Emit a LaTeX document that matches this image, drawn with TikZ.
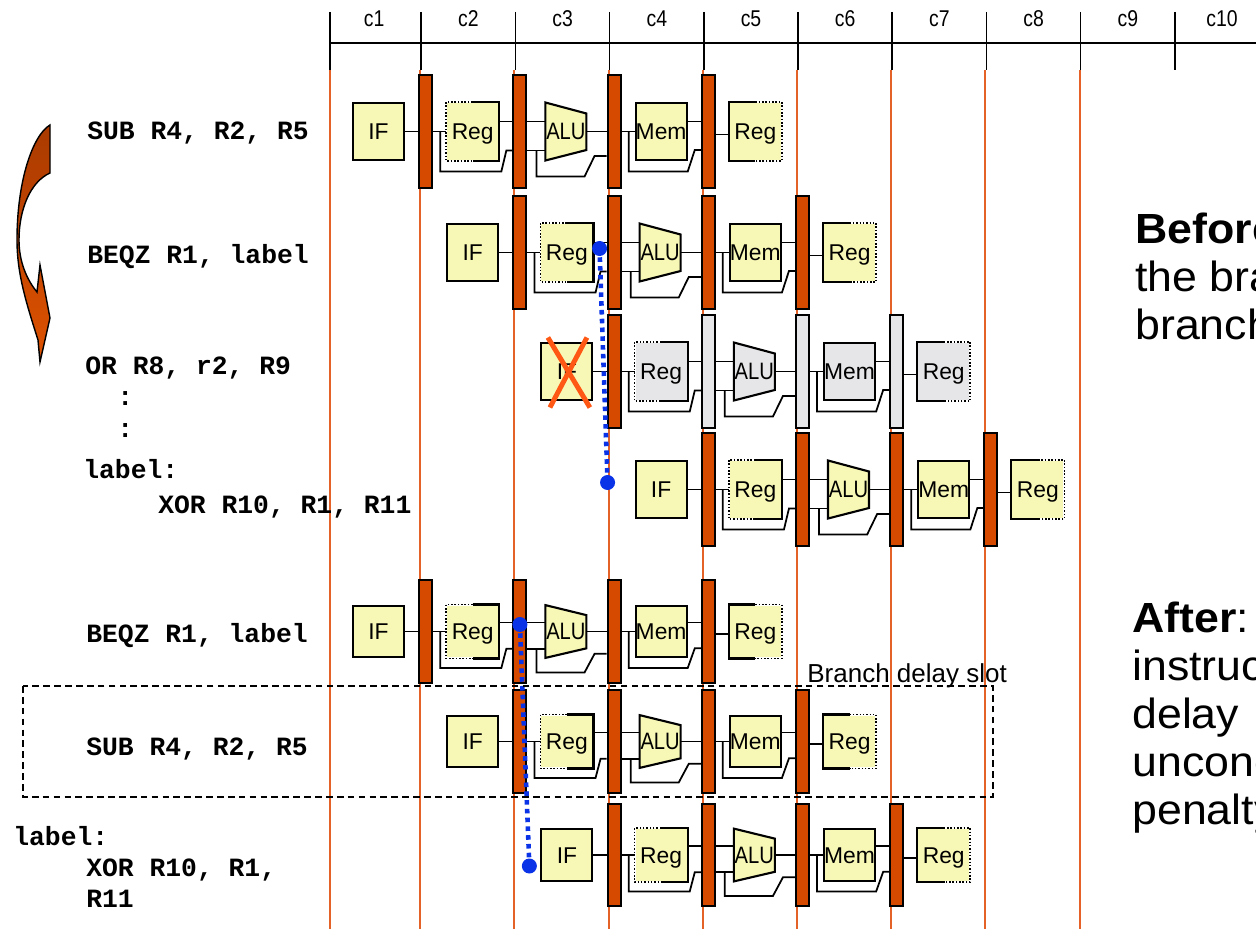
\documentclass[tikz,border=0pt]{standalone}
\usepackage{fontspec}
\setmainfont{Liberation Sans}
\newfontfamily\codefont{Liberation Mono}
\newfontfamily\narrowfont[FakeStretch=0.85]{Liberation Sans}
\newfontfamily\widefont[FakeStretch=1.06]{Liberation Sans}
\usetikzlibrary{calc}
\definecolor{stageyellow}{RGB}{248,248,182}
\definecolor{stagegray}{RGB}{230,230,232}
\definecolor{latchorange}{RGB}{214,74,0}
\definecolor{gridorange}{RGB}{228,98,40}
\definecolor{branchblue}{RGB}{10,50,230}
\definecolor{crossred}{RGB}{255,88,20}
\definecolor{arrowtop}{RGB}{170,58,0}
\definecolor{arrowbot}{RGB}{222,82,0}

% #1 name, #2 first cycle, #3 row centre, #4 height factor, #5 stage fill, #6 latch fill
\newcommand{\pipeline}[6]{%
  \pgfmathsetmacro\pipex{325+94.2*#2}%
  \node[stage, minimum height=1.14cm*#4] (#1if) at (\pipex+53.5,#3) {IF};
  \node[latch, minimum height=2.26cm*#4] (#1l1) at (\pipex+100.7,#3) {};
  \node[regbox, fill=#5, minimum height=1.14cm*#4] (#1id) at (\pipex+147.7,#3) {Reg};
  \node[latch, fill=#6, minimum height=2.26cm*#4] (#1l2) at (\pipex+194.9,#3) {};
  \filldraw[boxline, fill=#5] (\pipex+220.4,#3-29*#4) -- (\pipex+261.4,#3-18*#4)
    -- (\pipex+261.4,#3+18.5*#4) -- (\pipex+220.4,#3+29*#4) -- cycle;
  \node[alutext] (#1ex) at (\pipex+240.9,#3) {ALU};
  \node[latch, fill=#6, minimum height=2.26cm*#4] (#1l3) at (\pipex+289.1,#3) {};
  \node[stage, fill=#5, minimum height=1.14cm*#4] (#1mem) at (\pipex+336.1,#3) {Mem};
  \node[latch, fill=#6, minimum height=2.26cm*#4] (#1l4) at (\pipex+383.3,#3) {};
  \node[regbox, fill=#5, minimum height=1.14cm*#4] (#1wb) at (\pipex+430.3,#3) {Reg};
  % register file: read half solid, write half dotted
  \draw[dotline] (#1id.north) -| (#1id.south west) -- (#1id.south);
  \draw[boxline] (#1id.north) -| (#1id.south east) -- (#1id.south);
  \draw[boxline] (#1wb.north) -| (#1wb.south west) -- (#1wb.south);
  \draw[dotline] (#1wb.north) -| (#1wb.south east) -- (#1wb.south);
  % wires
  \draw[wire] (#1if) -- (#1l1);
  \draw[wire] (#1l1) -- (#1id);
  \draw[wire] ($(#1l1.east)+(7,0)$) -- ++(0,40*#4) -- ($(#1l2.west)+(-11,40*#4)$)
    -- ($(#1l2.west)+(-6,19*#4)$) -- ($(#1l2.west)+(0,19*#4)$);
  \draw[wire] ($(#1id.east)+(0,-10*#4)$) -- ($(#1l2.west)+(0,-10*#4)$);
  \draw[wire] ($(#1l2.east)+(0,-10*#4)$) -- ($(#1ex.west)+(0,-10*#4)$);
  \draw[wire] ($(#1l2.east)+(0,19*#4)$) -- ($(#1ex.west)+(0,19*#4)$);
  \draw[wire] ($(#1l2.east)+(9,19*#4)$) -- ++(0,26*#4) -- ($(#1l3.west)+(-22,45*#4)$)
    -- ($(#1l3.west)+(-12,24.5*#4)$) -- ($(#1l3.west)+(0,24.5*#4)$);
  \draw[wire] (#1ex) -- (#1l3);
  \draw[wire] (#1l3) -- (#1mem);
  \draw[wire] ($(#1l3.east)+(7,0)$) -- ++(0,40*#4) -- ($(#1l4.west)+(-13,40*#4)$)
    -- ($(#1l4.west)+(-6,18.5*#4)$) -- ($(#1l4.west)+(0,18.5*#4)$);
  \draw[wire] ($(#1mem.east)+(0,-10*#4)$) -- ($(#1l4.west)+(0,-10*#4)$);
  \draw[wire] ($(#1l4.east)+(0,3*#4)$) -- ($(#1wb.west)+(0,3*#4)$);
}

\begin{document}
\begin{tikzpicture}[x=0.02cm, y=-0.02cm,
  boxline/.style={line width=1.2pt},
  wire/.style={line width=1pt},
  dotline/.style={line width=0.9pt, densely dotted},
  stage/.style={draw, boxline, fill=stageyellow, minimum width=1.02cm, inner sep=0pt,
    text height=9.4pt, text depth=0pt, font=\fontsize{13}{14}\selectfont},
  regbox/.style={stage, draw=none},
  latch/.style={draw, boxline, fill=latchorange, minimum width=0.26cm, inner sep=0pt},
  alutext/.style={minimum width=0.82cm, inner sep=0pt, text height=9.6pt, text depth=0pt,
    font=\narrowfont\fontsize{13.5}{15}\selectfont},
  cyclelabel/.style={inner sep=0pt, font=\narrowfont\fontsize{13}{14}\selectfont},
  code/.style={anchor=base west, inner sep=0pt, font=\codefont\bfseries\fontsize{15}{17}\selectfont},
  note/.style={anchor=base west, inner sep=0pt, font=\widefont\fontsize{24}{28}\selectfont},
  bluepath/.style={branchblue, line width=2.6pt, dash pattern=on 2.6pt off 2.4pt},
  grid/.style={gridorange, line width=1.1pt},
  tick/.style={line width=0.9pt}]
  \useasboundingbox (0,0) rectangle (1256,929);

  % clock cycles
  \draw[grid] (330,70) -- (330,929);
  \foreach \k in {1,...,8}
    \draw[grid] (326+94.2*\k,70) -- (326+94.2*\k,929);
  \draw[tick] (330,43) -- (1256,43);
  \draw[tick] (330,12) -- (330,70);
  \foreach \k in {1,...,9}
    \draw[tick] (327+94.2*\k,12) -- (327+94.2*\k,70);
  \foreach \k in {1,...,10}
    \node[cyclelabel] (c\k) at (280+94.2*\k,19) {c\k};

  % before
  \pipeline{r1}{0}{131.5}{1}{stageyellow}{latchorange}
  \pipeline{r2}{1}{252.5}{1}{stageyellow}{latchorange}
  \pipeline{r3}{2}{371.5}{1}{stagegray}{stagegray}
  \pipeline{r4}{3}{489.5}{1}{stageyellow}{latchorange}
  % after
  \pipeline{r5}{0}{631.5}{0.91}{stageyellow}{latchorange}
  \pipeline{r6}{1}{741.5}{0.91}{stageyellow}{latchorange}
  \pipeline{r7}{2}{855}{0.91}{stageyellow}{latchorange}

  % squashed fetch
  \draw[crossred, line width=2.8pt] ($(r3if)+(-19,-34)$) -- ($(r3if)+(23,36)$);
  \draw[crossred, line width=2.8pt] ($(r3if)+(20,-34)$) -- ($(r3if)+(-17,36)$);

  % branch resolution
  \coordinate (bq1) at ($(r2l2.west)+(-7,-4)$);
  \coordinate (bq2) at ($(r4if.west)+(-27,-7)$);
  \coordinate (bq3) at ($(r5l2.center)+(0,-7)$);
  \coordinate (bq4) at ($(r7if.west)+(-11,11)$);
  \draw[bluepath] (bq1) -- (bq2);
  \draw[bluepath] (bq3) -- (bq4);
  \foreach \c in {bq1,bq2,bq3,bq4}
    \fill[branchblue] (\c) circle[radius=0.15cm];

  % delay slot
  \draw[line width=0.8pt, dash pattern=on 3.8pt off 2.4pt] (23,686) rectangle (993,797);
  \node[anchor=base west, inner sep=0pt, font=\fontsize{14.8}{16}\selectfont] (slot) at (807,682) {Branch delay slot};

  % code
  \node[code] (sub1) at (87,140) {SUB R4, R2, R5};
  \node[code] (beqz1) at (87,263) {BEQZ R1, label};
  \node[code] (or1) at (85,374) {OR R8, r2, R9};
  \node[code] (dots1) at (117,405) {:};
  \node[code] (dots2) at (117,437) {:};
  \node[code] (label1) at (83,478) {label:};
  \node[code] (xor1) at (158,513) {XOR R10, R1, R11};
  \node[code] (beqz2) at (86,642) {BEQZ R1, label};
  \node[code] (sub2) at (86,755) {SUB R4, R2, R5};
  \node[code] (label2) at (13,845) {label:};
  \node[code] (xor2) at (86,876) {XOR R10, R1,};
  \node[code] (r11) at (86,907) {R11};

  % curved arrow
  \shadedraw[top color=arrowtop, bottom color=arrowbot, draw=black, line width=0.8pt]
    (50,125) -- (50,173) .. controls (30,182) and (19,210) .. (19,240)
    .. controls (19,262) and (27,280) .. (37,292) -- (40,265) -- (50,318) -- (40,362)
    -- (38,340) .. controls (27,305) and (17,275) .. (17,240)
    .. controls (17,180) and (33,135) .. (50,125) -- cycle;

  % notes
  \begin{scope}
    \clip (0,0) rectangle (1256,929);
    \foreach \t [count=\i] in {{\textbf{Before}:}, the branch, branch penalty}
      \node[note] (before\i) at (1135,195+48*\i) {\t};
    \foreach \t [count=\i] in {{\textbf{After}:}, instruction in, delay, unconditional, penalty}
      \node[note] (after\i) at (1132,584+48*\i) {\t};
  \end{scope}
\end{tikzpicture}
\end{document}
